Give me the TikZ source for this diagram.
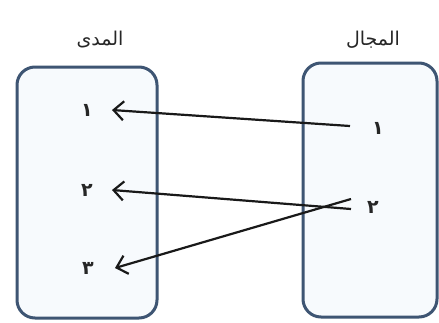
\documentclass[tikz,border=0pt]{standalone}
\usepackage{fontspec}
\usetikzlibrary{arrows.meta}
\TeXXeTstate=1
\newfontfamily\arabicfont[Script=Arabic]{DejaVu Sans}
\definecolor{boxline}{HTML}{3E5573}
\definecolor{boxfill}{HTML}{F7FAFD}
\tikzset{
  setbox/.style={draw=boxline,line width=3pt,fill=boxfill,rounded corners=18pt},
  num/.style={font=\arabicfont\fontsize{19}{21}\selectfont\bfseries,inner sep=0pt,text=black!85},
  ttl/.style={font=\arabicfont\fontsize{19}{21}\selectfont,inner sep=0pt,text=black!85},
  maparrow/.style={draw=black!90,line width=2.2pt,-{Straight Barb[length=10pt,width=19pt,line width=2.2pt]}}
}
\begin{document}
\begin{tikzpicture}[x=1pt,y=-1pt]
\useasboundingbox (0,0) rectangle (439,322);
\fill[white] (0,0) rectangle (439,322);
\draw[setbox] (17,67) rectangle (157,318);
\draw[setbox] (303,63) rectangle (437,317);
\node[ttl] (rng) at (100,40) {\beginR المدى\endR};
\node[ttl] (dom) at (373,40) {\beginR المجال\endR};
\node[num] (l1) at (87,110) {\beginR ١\endR};
\node[num] (l2) at (87,190) {\beginR ٢\endR};
\node[num] (l3) at (88,268) {\beginR ٣\endR};
\node[num] (r1) at (378,128) {\beginR ١\endR};
\node[num] (r2) at (373,207) {\beginR ٢\endR};
\draw[maparrow] ([xshift=-22pt,yshift=2pt]r1.west) -- ([xshift=19pt]l1.east);
\draw[maparrow] ([xshift=-16pt,yshift=-2pt]r2.west) -- ([xshift=19pt]l2.east);
\draw[maparrow] ([xshift=-16pt,yshift=8pt]r2.west) -- ([xshift=21pt]l3.east);
\end{tikzpicture}
\end{document}
